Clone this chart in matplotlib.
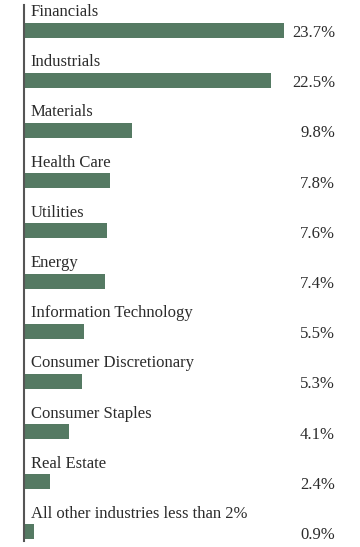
import matplotlib
matplotlib.use("Agg")
import matplotlib.pyplot as plt

categories = ["Financials", "Industrials", "Materials", "Health Care", "Utilities",
              "Energy", "Information Technology", "Consumer Discretionary",
              "Consumer Staples", "Real Estate", "All other industries less than 2%"]
values = [23.7, 22.5, 9.8, 7.8, 7.6, 7.4, 5.5, 5.3, 4.1, 2.4, 0.9]
value_labels = ["23.7%", "22.5%", "9.8%", "7.8%", "7.6%", "7.4%", "5.5%", "5.3%", "4.1%", "2.4%", "0.9%"]

W, H = 360, 547
fig = plt.figure(figsize=(W/100, H/100), dpi=100)
left = 24/W
width = 320/W
bottom = 1 - 541/H
top = 1 - 5/H
ax = fig.add_axes([left, bottom, width, top - bottom])

bar_color = "#557a63"
text_color = "#2b2b2b"
font = ["Liberation Serif", "DejaVu Serif"]

ypos = list(range(len(categories)))
ax.barh(ypos, values, height=0.3, color=bar_color, left=0)
ax.set_xlim(0, 320/10.97)
ax.set_ylim(10.18, -0.5)

for y, c, v, lab in zip(ypos, categories, values, value_labels):
    ax.text(0.6, y - 0.36, c, ha="left", va="center", fontsize=12,
            family=font, color=text_color)
    ax.text((335 - 24) / 320, y + 0.06, lab, ha="right", va="center", fontsize=12,
            family=font, color=text_color, transform=ax.get_yaxis_transform())

for s in ["top", "right", "bottom"]:
    ax.spines[s].set_visible(False)
ax.spines["left"].set_color("#555555")
ax.spines["left"].set_linewidth(1.5)
ax.set_xticks([])
ax.set_yticks([])

fig.savefig("out.png", dpi=100)
